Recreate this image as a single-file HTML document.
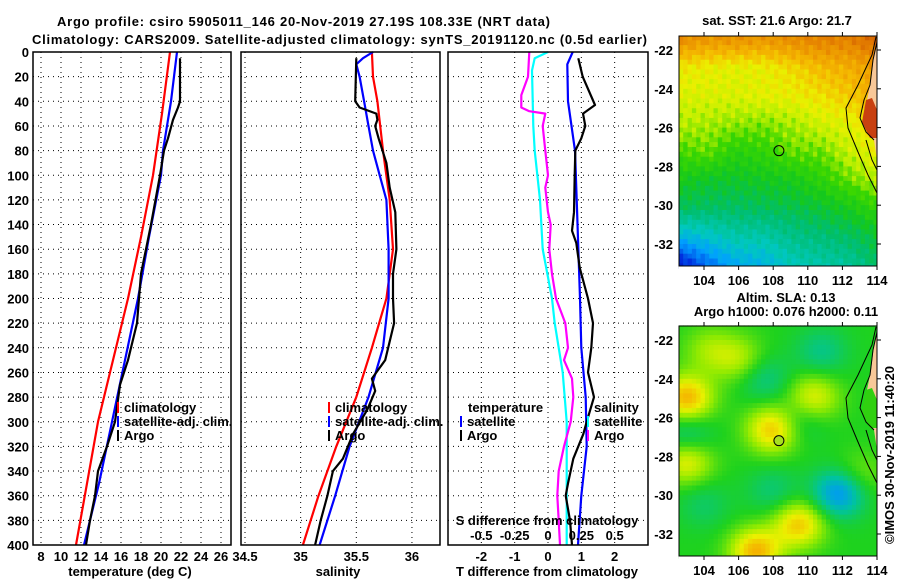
<!DOCTYPE html>
<html><head><meta charset="utf-8"><style>
html,body{margin:0;padding:0;background:#fff;width:900px;height:580px;overflow:hidden}
svg text{font-family:"Liberation Sans",Arial,sans-serif;font-weight:bold;font-size:13px;fill:#000}
</style></head><body>
<svg id="fig" width="900" height="580" viewBox="0 0 900 580" xmlns="http://www.w3.org/2000/svg">
<text x="57" y="26" font-size="15.5" textLength="493" lengthAdjust="spacing">Argo profile: csiro 5905011_146 20-Nov-2019 27.19S 108.33E (NRT data)</text>
<text x="32" y="44" font-size="15.5" textLength="615" lengthAdjust="spacing">Climatology: CARS2009. Satellite-adjusted climatology: synTS_20191120.nc (0.5d earlier)</text>
<text x="777" y="25" text-anchor="middle">sat. SST: 21.6 Argo: 21.7</text>
<text x="786" y="302" text-anchor="middle">Altim. SLA: 0.13</text>
<text x="786" y="316" text-anchor="middle">Argo h1000: 0.076 h2000: 0.11</text>
<g id="g"></g>
<text x="0" y="0" font-weight="normal" transform="translate(894,544) rotate(-90)">©IMOS 30-Nov-2019 11:40:20</text>
</svg>
<script>
// ---------- data ----------
const depthTicks=[0,20,40,60,80,100,120,140,160,180,200,220,240,260,280,300,320,340,360,380,400];
const tempTicks=[8,10,12,14,16,18,20,22,24,26];
const salTicks=[34.5,35,35.5,36];
const salTickLabels=["34.5","35","35.5","36"];
const tdiffTicks=[-2,-1,0,1,2];
const sdiffTicks=[-0.5,-0.25,0,0.25,0.5];
const sdiffTickLabels=["-0.5","-0.25","0","0.25","0.5"];

const tClimDepth=[0,50,100,150,200,250,300,350,400];
const tClimVal=[20.9,20.1,19.2,18.0,16.7,15.2,13.7,12.6,11.5];
const tSatDepth=[0,40,80,100,150,200,250,300,350,400];
const tSatVal=[21.6,21.0,20.2,20.0,18.8,17.7,16.4,15.1,13.8,12.3];
const tArgoDepth=[5,40,45,55,70,80,100,140,180,200,220,250,270,300,320,340,360,380,400];
const tArgoVal=[21.9,21.9,21.7,21.2,20.7,20.3,19.9,19.0,18.0,17.8,17.6,16.7,15.9,15.4,14.6,13.7,13.4,12.9,12.5];

const sClimDepth=[0,20,40,80,120,160,200,240,280,320,360,400];
const sClimVal=[35.64,35.65,35.69,35.74,35.80,35.83,35.77,35.64,35.50,35.32,35.16,35.02];
const sSatDepth=[0,5,10,20,40,60,80,100,120,160,200,240,280,320,360,400];
const sSatVal=[35.65,35.56,35.50,35.53,35.57,35.61,35.65,35.71,35.77,35.79,35.79,35.74,35.61,35.44,35.31,35.17];
const sArgoDepth=[5,40,45,50,55,60,70,90,110,130,160,180,200,220,250,265,275,290,310,330,340,360,380,400];
const sArgoVal=[35.50,35.49,35.53,35.68,35.69,35.67,35.70,35.77,35.80,35.85,35.86,35.83,35.83,35.84,35.76,35.64,35.67,35.60,35.47,35.38,35.29,35.24,35.18,35.13];

const dTSatDepth=[0,10,40,80,120,200,240,280,320,360,400];
const dTSatVal=[0.74,0.58,0.60,0.81,0.86,0.96,1.0,1.13,1.16,1.0,0.9];
const dTArgoDepth=[5,20,43,50,60,70,80,100,130,145,155,175,200,220,240,260,280,300,310,330,350,360,380,400];
const dTArgoVal=[0.91,1.04,1.41,1.05,1.12,1.0,0.82,0.80,0.78,0.72,0.85,0.95,1.2,1.35,1.3,1.2,1.38,1.16,1.06,0.76,0.6,0.53,0.66,0.72];
const dSSatDepth=[0,5,15,60,80,120,160,200,220,260,300,400];
const dSSatVal=[0.0,-0.1,-0.12,-0.11,-0.1,-0.06,-0.04,0.03,0.05,0.11,0.14,0.14];
const dSArgoDepth=[0,20,35,45,48,50,60,80,100,110,130,140,160,180,200,220,240,250,265,280,300,320,340,360,380,400];
const dSArgoVal=[-0.14,-0.15,-0.2,-0.2,-0.14,-0.02,-0.04,-0.02,0.0,-0.02,0.0,0.02,0.01,0.03,0.06,0.13,0.15,0.12,0.18,0.19,0.17,0.12,0.08,0.07,0.08,0.09];

const sstGrid=[
[.86,.84,.85,.84,.86,.88,.88,.93],
[.72,.71,.70,.71,.74,.78,.80,.83],
[.69,.69,.69,.70,.71,.73,.76,.80],
[.66,.65,.64,.63,.65,.68,.70,.74],
[.60,.62,.56,.58,.62,.62,.67,.71],
[.53,.51,.51,.52,.53,.57,.62,.66],
[.47,.46,.46,.47,.48,.50,.53,.58],
[.30,.34,.38,.38,.42,.44,.46,.50],
[.10,.20,.28,.30,.36,.38,.40,.46]];
const slaBlobLon=[103,108,110.3,103,109.5,107,104.3,106,107.5,110.8,103,111.8,109.5,108,104,113];
const slaBlobLat=[-25,-26.6,-25,-28.2,-31.5,-32.9,-22.5,-23,-24,-22.6,-27,-29.9,-26.1,-29.8,-30.5,-29];
const slaBlobAmp=[.32,.3,.22,.24,.28,.32,.12,.15,-.12,-.12,-.15,-.3,-.12,-.1,-.08,.1];

// ---------- helpers ----------
const NS="http://www.w3.org/2000/svg";
const G=document.getElementById('g');
function mk(tag,attrs,parent){const e=document.createElementNS(NS,tag);for(const k in attrs)e.setAttribute(k,attrs[k]);(parent||G).appendChild(e);return e;}
const top0=52,bot0=545;
const yD=d=>top0+d*(bot0-top0)/400;
const xT=t=>41+(t-8)*10;
const xS=s=>245+(s-34.5)*111.3;
const xDT=d=>548+d*33.33;
const xDS=s=>548+s*133.3;

function panel(name,x0,x1){
  const g=mk('g',{});
  
  
  depthTicks.forEach(d=>{ if(d>0&&d<400) mk('line',{x1:x0,x2:x1,y1:yD(d),y2:yD(d),stroke:'#000','stroke-dasharray':'1,4','stroke-width':1},g); });
  return g;
}
function vgrid(g,x){mk('line',{x1:x,x2:x,y1:top0,y2:bot0,stroke:'#000','stroke-dasharray':'1,4','stroke-width':1},g);}
function frame(g,x0,x1){mk('rect',{x:x0,y:top0,width:x1-x0,height:bot0-top0,fill:'none',stroke:'#000','stroke-width':1.5},g);}
function series(g,name,depths,vals,xf,color){
  const pts=depths.map((d,i)=>xf(vals[i]).toFixed(1)+','+yD(d).toFixed(1)).join(' ');
  const p=mk('polyline',{points:pts,fill:'none',stroke:color,'stroke-width':2.2,'stroke-linejoin':'round'},g);
  
  
}
function label(g,name,x,y,txt,anchor){const t=mk('text',{x:x,y:y,'text-anchor':anchor||'middle'},g);t.textContent=txt;return t;}
function legend(g,x,y,color,txt){mk('rect',{x:x,y:y-10,width:2,height:11,fill:color},g);label(g,'legend-entry',x+7,y,txt,'start');}

depthTicks.forEach(d=>label(G,'y-tick-label',29,yD(d)+5,String(d),'end'));

let g1=panel('temperature-panel',33,231);
tempTicks.forEach(t=>{vgrid(g1,xT(t));label(g1,'x-tick-label',xT(t),561,String(t));});
series(g1,'temp-climatology-line',tClimDepth,tClimVal,xT,'#ff0000');
series(g1,'temp-satellite-line',tSatDepth,tSatVal,xT,'#0000ff');
series(g1,'temp-argo-line',tArgoDepth,tArgoVal,xT,'#000');
frame(g1,33,231);
legend(g1,117,412,'#ff0000','climatology');legend(g1,117,426,'#0000ff','satellite-adj. clim.');legend(g1,117,440,'#000','Argo');
label(g1,'x-axis-title',130,576,'temperature (deg C)');

let g2=panel('salinity-panel',241,440);
salTicks.forEach((s,i)=>{vgrid(g2,xS(s));label(g2,'x-tick-label',xS(s),561,salTickLabels[i]);});
series(g2,'sal-climatology-line',sClimDepth,sClimVal,xS,'#ff0000');
series(g2,'sal-satellite-line',sSatDepth,sSatVal,xS,'#0000ff');
series(g2,'sal-argo-line',sArgoDepth,sArgoVal,xS,'#000');
frame(g2,241,440);
legend(g2,328,412,'#ff0000','climatology');legend(g2,328,426,'#0000ff','satellite-adj. clim.');legend(g2,328,440,'#000','Argo');
label(g2,'x-axis-title',338,576,'salinity');

let g3=panel('difference-panel',448,648);
tdiffTicks.forEach(t=>{vgrid(g3,xDT(t));label(g3,'x-tick-label',xDT(t),561,String(t));});
series(g3,'sdiff-satellite-line',dSSatDepth,dSSatVal,xDS,'#00ffff');
series(g3,'sdiff-argo-line',dSArgoDepth,dSArgoVal,xDS,'#ff00ff');
series(g3,'tdiff-satellite-line',dTSatDepth,dTSatVal,xDT,'#0000ff');
series(g3,'tdiff-argo-line',dTArgoDepth,dTArgoVal,xDT,'#000');
frame(g3,448,648);
label(g3,'legend-title',468,412,'temperature','start');
legend(g3,460,426,'#0000ff','satellite');legend(g3,460,440,'#000','Argo');
label(g3,'legend-title',594,412,'salinity','start');
legend(g3,587,426,'#00ffff','satellite');legend(g3,587,440,'#ff00ff','Argo');
label(g3,'s-axis-title',547,525,'S difference from climatology');
sdiffTicks.forEach((s,i)=>label(g3,'s-tick-label',xDS(s),540,sdiffTickLabels[i]));
label(g3,'x-axis-title',547,576,'T difference from climatology');

// ---------- maps ----------
const mx0=679,mx1=877;
const lonX=lon=>704+(lon-104)*17.3;
const latY=(lat,oy)=>oy+50+(-22-lat)*19.4;
function cmap(stops,v){v=Math.max(0,Math.min(1,v));for(let i=1;i<stops.length;i++){if(v<=stops[i][0]){const a=stops[i-1],b=stops[i],f=(v-a[0])/(b[0]-a[0]);return 'rgb('+[1,2,3].map(k=>Math.round(a[k]+(b[k]-a[k])*f)).join(',')+')';}}const l=stops[stops.length-1];return 'rgb('+l[1]+','+l[2]+','+l[3]+')';}
const sstStops=[[0,0,0,130],[.12,0,40,220],[.25,0,160,255],[.35,0,200,190],[.45,0,190,110],[.52,20,200,30],[.6,60,215,0],[.66,190,240,0],[.71,235,240,0],[.78,245,185,0],[.88,230,130,0],[1,190,60,0]];
const slaStops=[[0,0,60,255],[.2,0,150,255],[.35,0,195,160],[.5,30,210,30],[.62,150,235,0],[.72,235,240,0],[.82,245,180,0],[1,230,120,0]];
function sstVal(lon,lat){
  const r=(-21.5-lat)/(11.5/8), c=(lon-102.6)/(11.4/7);
  const r0=Math.max(0,Math.min(7,Math.floor(r))),c0=Math.max(0,Math.min(6,Math.floor(c)));
  const fr=Math.max(0,Math.min(1,r-r0)),fc=Math.max(0,Math.min(1,c-c0));
  const v=sstGrid[r0][c0]*(1-fr)*(1-fc)+sstGrid[r0+1][c0]*fr*(1-fc)+sstGrid[r0][c0+1]*(1-fr)*fc+sstGrid[r0+1][c0+1]*fr*fc;
  return v+0.03*Math.sin(lon*7.3+lat*3.1)*Math.cos(lat*5.7-lon*2.2);
}
function slaVal(lon,lat){let v=0.5;for(let i=0;i<slaBlobLon.length;i++){const dx=(lon-slaBlobLon[i])/1.5,dy=(lat-slaBlobLat[i])/1.2;v+=slaBlobAmp[i]*Math.exp(-(dx*dx+dy*dy));}return v;}
function drawMap(name,oy,fn,stops,markerFill){
  const g=mk('g',{});
  
  
  const ytop=oy+36,ybot=oy+266;
  for(let lon=102.55;lon<114;lon+=0.25){for(let lat=-21.25;lat>-33.15;lat-=0.25){
    const x=lonX(lon),y=latY(lat,oy);
    mk('rect',{x:x.toFixed(1),y:y.toFixed(1),width:4.9,height:5.4,fill:cmap(stops,fn(lon+0.125,lat-0.125))},g);
  }}
  mk('rect',{x:mx1,y:oy+30,width:12,height:240,fill:'#fff'},g);
  mk('rect',{x:mx0,y:ybot,width:200,height:10,fill:'#fff'},g);
  mk('polygon',{points:`877,${oy+40} 874,${oy+55} 871,${oy+80} 866,${oy+105} 868,${oy+125} 874,${oy+140} 877,${oy+160}`,fill:'#f8c898'},g);
  if(oy===0) mk('polygon',{points:`866,${oy+100} 872,${oy+98} 877,${oy+110} 877,${oy+138} 870,${oy+138} 862,${oy+122}`,fill:'#c84010'},g);
  else mk('polygon',{points:`866,${oy+100} 872,${oy+98} 877,${oy+110} 877,${oy+138} 870,${oy+138} 862,${oy+122}`,fill:'#30d010'},g);
  mk('polyline',{points:`876,${oy+37} 872,${oy+55} 858,${oy+85} 846,${oy+108} 848,${oy+128} 858,${oy+152} 868,${oy+175} 877,${oy+193}`,fill:'none',stroke:'#000','stroke-width':1},g);
  mk('polyline',{points:`877,${oy+42} 873,${oy+60} 870,${oy+85} 864,${oy+100} 860,${oy+118} 866,${oy+132} 874,${oy+140}`,fill:'none',stroke:'#000','stroke-width':1},g);
  mk('polyline',{points:`866,${oy+140} 872,${oy+160} 877,${oy+170}`,fill:'none',stroke:'#000','stroke-width':1},g);
  mk('rect',{x:mx0,y:ytop,width:mx1-mx0,height:ybot-ytop,fill:'none',stroke:'#000','stroke-width':1},g);
  [104,106,108,110,112,114].forEach(l=>{const x=lonX(l);mk('line',{x1:x,x2:x,y1:ytop,y2:ytop-4,stroke:'#000'},g);mk('line',{x1:x,x2:x,y1:ybot,y2:ybot+4,stroke:'#000'},g);label(g,'lon-tick-label',x,oy+285,String(l));});
  [-22,-24,-26,-28,-30,-32].forEach(l=>{const y=latY(l,oy);mk('line',{x1:mx1,x2:mx1+4,y1:y,y2:y,stroke:'#000'},g);label(g,'lat-tick-label',673,y+5,String(l),'end');});
  const c=mk('circle',{cx:lonX(108.33),cy:latY(-27.19,oy),r:5,fill:markerFill,stroke:'#000','stroke-width':1},g);
  
  
}
drawMap('sst-map',0,sstVal,sstStops,'none');
drawMap('sla-map',290,slaVal,slaStops,'#a8e020');
</script>
</body></html>
